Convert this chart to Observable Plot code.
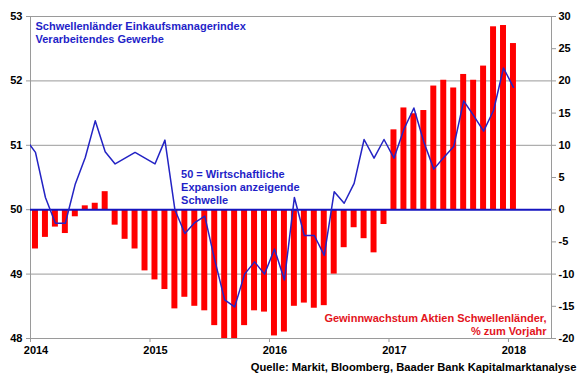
<!DOCTYPE html>
<html>
<head>
<meta charset="utf-8">
<script src="https://cdn.jsdelivr.net/npm/d3@7"></script>
<script src="https://cdn.jsdelivr.net/npm/@observablehq/plot@0.6"></script>
<style>
  html, body { margin: 0; padding: 0; background: #fff; }
  #chart svg { display: block; }
</style>
</head>
<body>
<div id="chart"></div>
<script>
// Monthly PMI (left axis), starting Dec 2013
const pmiStart = "2013-12";
const pmiValues = [
  51.10,
  50.89, 50.19, 49.79, 49.79, 50.40, 50.81, 51.38, 50.90, 50.71, 50.80, 50.89, 50.80,
  50.71, 51.08, 50.00, 49.63, 49.80, 49.90, 49.22, 48.60, 48.49, 49.00, 49.19, 49.00,
  49.39, 48.91, 50.19, 49.60, 49.60, 49.29, 50.28, 50.10, 50.41, 51.09, 50.80, 51.09,
  50.80, 51.25, 51.58, 51.05, 50.63, 50.81, 50.98, 51.69, 51.46, 51.22, 51.54, 52.20,
  51.90
];
// Earnings growth, % y/y (right axis), starting Jan 2014
const earnStart = "2014-01";
const earnValues = [
  -6.1, -4.3, -2.7, -3.7, -1.1, 0.6, 1.0, 2.8, -2.4, -4.6, -6.1, -9.5,
  -10.9, -12.4, -15.4, -13.6, -15.0, -15.7, -18.0, -20.0, -20.0, -18.0, -15.7, -15.9,
  -19.6, -19.0, -15.0, -14.5, -15.3, -14.9, -10.0, -5.9, -2.8, -4.5, -6.7, -2.3,
  12.4, 15.8, 14.9, 15.4, 19.2, 20.1, 18.9, 21.0, 20.1, 22.3, 28.4, 28.6,
  25.8
];
const yearTicks = [2014, 2015, 2016, 2017, 2018];
const leftTicks = [48, 49, 50, 51, 52, 53];
const rightTicks = [-20, -15, -10, -5, 0, 5, 10, 15, 20, 25, 30];

const titleText = "Schwellenländer Einkaufsmanagerindex\nVerarbeitendes Gewerbe";
const noteText = "50 = Wirtschaftliche\nExpansion anzeigende\nSchwelle";
const redText = "Gewinnwachstum Aktien Schwellenländer,\n% zum Vorjahr";
const sourceText = "Quelle: Markit, Bloomberg, Baader Bank Kapitalmarktanalyse";

// helpers: month string -> decimal year at middle of month
function monthIndex(start, i) {
  const [y, m] = start.split("-").map(Number);
  return y + (m - 1 + i + 0.5) / 12;
}
// right axis (earnings %) maps to left axis: r = (pmi - 50) * 10
const toLeft = r => 50 + r / 10;

const pmiData = pmiValues.map((v, i) => ({t: monthIndex(pmiStart, i), v}));
const earnData = earnValues.map((r, i) => ({t: monthIndex(earnStart, i), r}));
const halfBar = 0.3 / 12;

const blue = "#2323c4";
const red = "#ff0000";
const grey = "#9a9a9a";

const chart = Plot.plot({
  width: 580,
  height: 375,
  marginLeft: 30,
  marginRight: 29,
  marginTop: 16,
  marginBottom: 37,
  style: {fontFamily: "'Liberation Sans', Arial, sans-serif", fontSize: "11px", fontWeight: "bold", background: "#fff"},
  x: {domain: [2014, 2018.36]},
  y: {domain: [48, 53]},
  marks: [
    Plot.ruleY([49, 51, 52], {stroke: grey, strokeWidth: 1}),
    Plot.frame({stroke: grey, strokeWidth: 1}),
    Plot.rect(earnData, {
      x1: d => d.t - halfBar, x2: d => d.t + halfBar,
      y1: d => 50, y2: d => toLeft(d.r),
      fill: red, clip: true
    }),
    Plot.ruleY([50], {stroke: "#1515c0", strokeWidth: 2}),
    Plot.line(pmiData, {x: "t", y: "v", stroke: blue, strokeWidth: 1.5, clip: true}),
    Plot.axisY(leftTicks, {anchor: "left", tickSize: 4, tickPadding: 4, label: null, stroke: grey, fill: "#000", fontSize: 11, fontWeight: "bold",
      tickFormat: d => String(d)}),
    Plot.axisY(rightTicks.map(toLeft), {anchor: "right", tickSize: 4, tickPadding: 3, label: null, stroke: grey, fill: "#000", fontSize: 11, fontWeight: "bold",
      tickFormat: d => String(Math.round((d - 50) * 10))}),
    Plot.axisX(yearTicks, {anchor: "bottom", tickSize: 4, label: null, stroke: grey, tickFormat: () => ""}),
    Plot.axisX(yearTicks, {anchor: "bottom", tickSize: 0, tickPadding: 8, dx: 5.5, label: null, fill: "#000", fontSize: 11, fontWeight: "bold",
      tickFormat: d => String(d)}),
    Plot.text([titleText], {frameAnchor: "top-left", dx: 5, dy: 4, lineAnchor: "top", textAnchor: "start", fill: "#1f1fc8", fontSize: 11, fontWeight: "bold", lineHeight: 1.18}),
    Plot.text([noteText], {x: [2015.26], y: [50.35], textAnchor: "start", lineAnchor: "middle", fill: "#1f1fc8", fontSize: 11, fontWeight: "bold", lineHeight: 1.18}),
    Plot.text([redText], {frameAnchor: "bottom-right", dx: -5, dy: -4, lineAnchor: "bottom", textAnchor: "end", fill: "#e3141c", fontSize: 11, fontWeight: "bold", lineHeight: 1.18}),
    Plot.text([sourceText], {frameAnchor: "bottom-right", dx: 25, dy: 29, lineAnchor: "middle", textAnchor: "end", fill: "#000", fontSize: 11.2, fontWeight: "bold"})
  ]
});
document.getElementById("chart").appendChild(chart);
</script>
</body>
</html>
